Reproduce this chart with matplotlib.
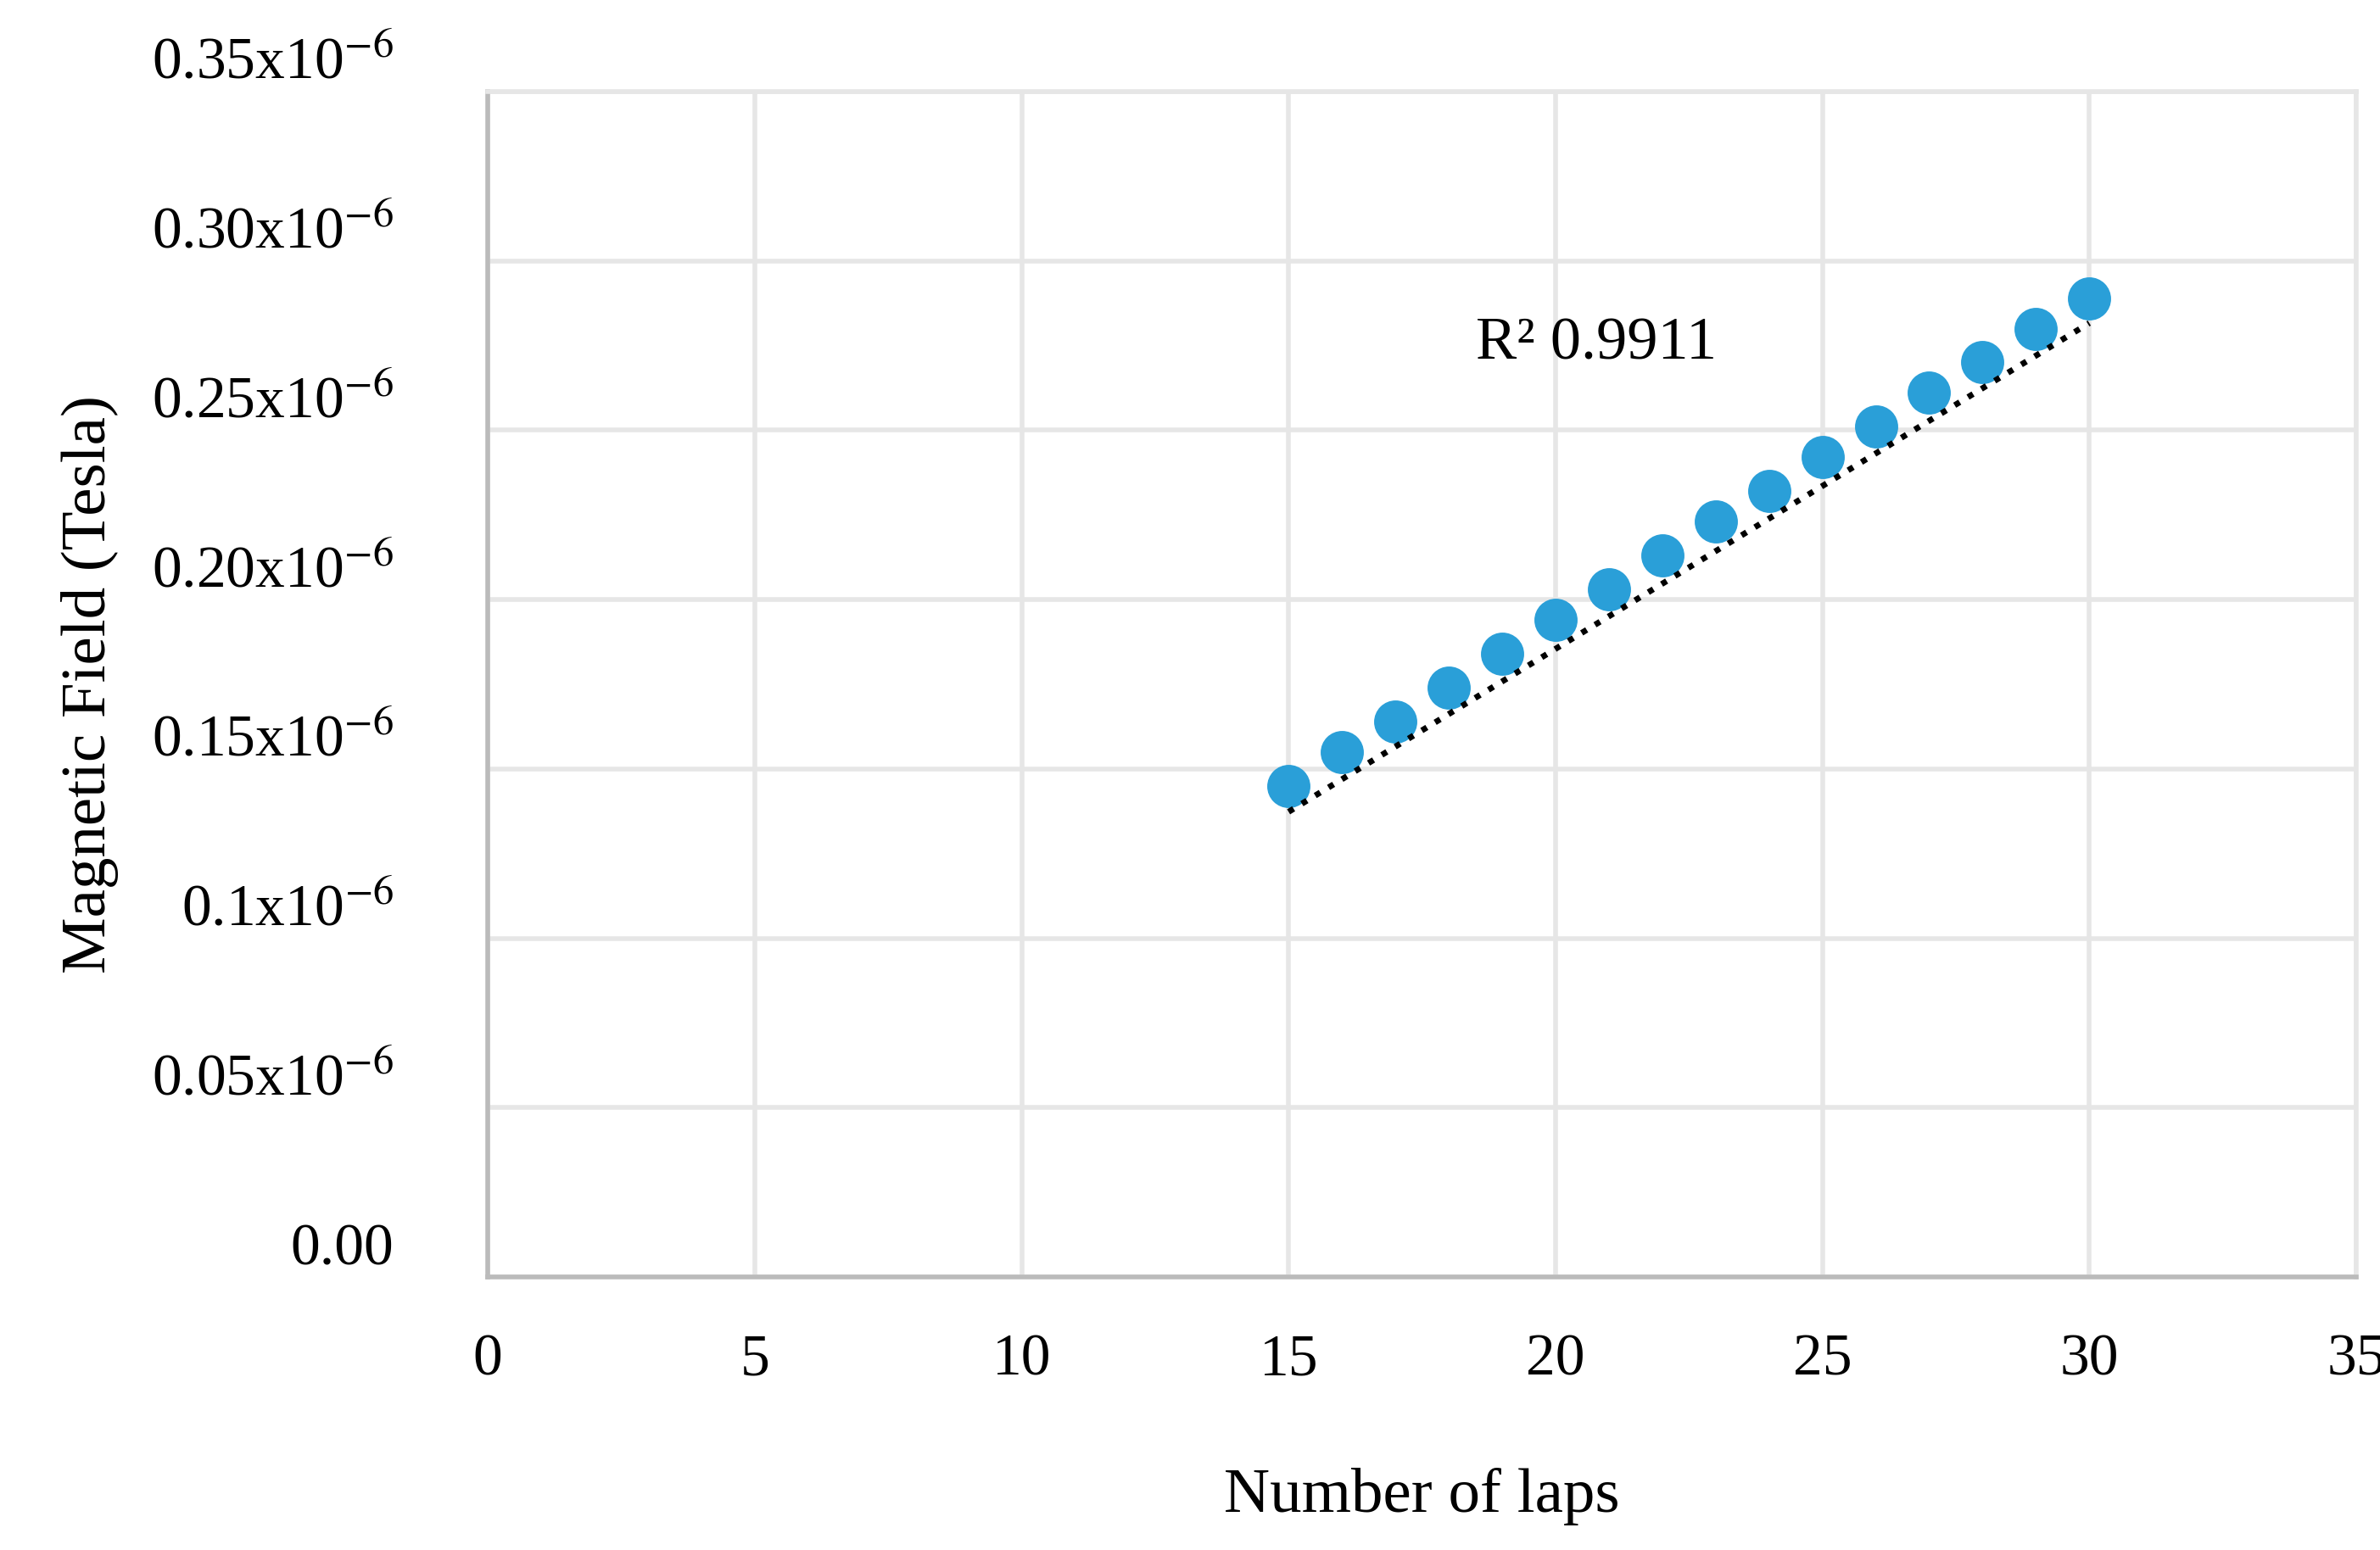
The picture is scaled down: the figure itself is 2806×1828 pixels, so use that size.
import numpy as np
import matplotlib.pyplot as plt

plt.rcParams['font.family'] = ['Liberation Serif', 'DejaVu Serif']
plt.rcParams['mathtext.fontset'] = 'stix'

laps = [15, 16, 17, 18, 19, 20, 21, 22, 23, 24, 25, 26, 27, 28, 29, 30]
field = [0.145, 0.155, 0.164, 0.174, 0.184, 0.194, 0.203, 0.213,
         0.223, 0.232, 0.242, 0.251, 0.261, 0.270, 0.280, 0.289]
yticks = [0, 0.05, 0.10, 0.15, 0.20, 0.25, 0.30, 0.35]
ylabels = ['0.00', '0.05x10$^{-6}$', '0.1x10$^{-6}$', '0.15x10$^{-6}$', '0.20x10$^{-6}$',
           '0.25x10$^{-6}$', '0.30x10$^{-6}$', '0.35x10$^{-6}$']

fig = plt.figure(figsize=(14.03, 9.14), dpi=200)
ax = fig.add_axes([0.205, 0.176, 0.785, 0.765])

ax.scatter(laps, field, s=300, color='#2a9fd8', zorder=3)
fit = np.polyfit(laps, field, 1)
xs = np.array([15, 30])
ax.plot(xs, np.polyval(fit, xs) - np.array([0.008, 0.008]), ':', color='black', lw=2.5, zorder=4)
ax.text(18.5, 0.271, 'R² 0.9911', fontsize=26)

ax.set_xlim(0, 35)
ax.set_ylim(0, 0.35)
ax.set_xticks(range(0, 36, 5))
ax.set_yticks(yticks)
ax.set_yticklabels(ylabels)
ax.tick_params(labelsize=25, length=0)
ax.tick_params(axis='x', pad=24)
ax.tick_params(axis='y', pad=40)
for lbl in ax.get_yticklabels():
    lbl.set_verticalalignment('bottom')
ax.grid(color='#e6e6e6', lw=2)
ax.set_axisbelow(True)
for s in ax.spines.values():
    s.set_color('#e6e6e6')
    s.set_linewidth(2)
ax.spines['left'].set_color('#bbbbbb')
ax.spines['bottom'].set_color('#bbbbbb')
ax.set_xlabel('Number of laps', fontsize=27, labelpad=34)
ax.set_ylabel('Magnetic Field (Tesla)', fontsize=27, labelpad=14)

fig.savefig('out.png', facecolor='white')
